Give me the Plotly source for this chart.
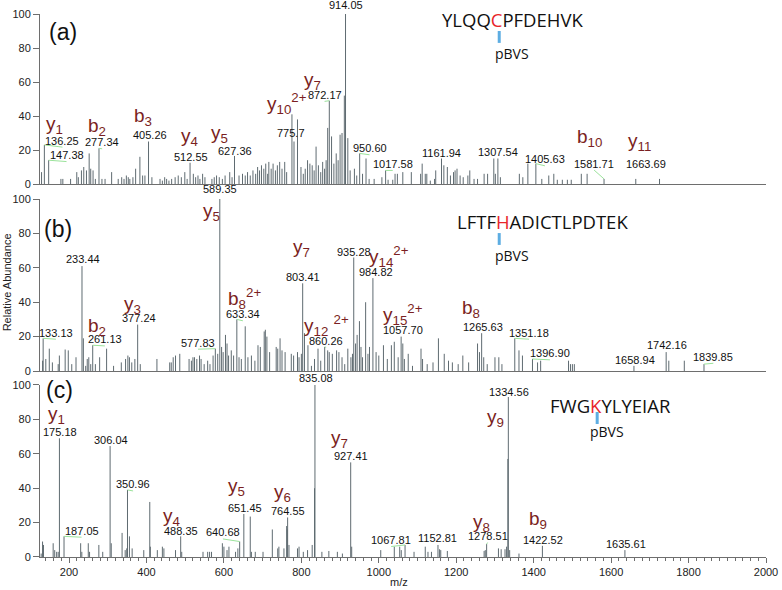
import plotly.graph_objects as go

# ---------------- data: panel (a) ----------------
A_MZ = [129, 136.25, 147.38, 179, 184, 204, 220, 224, 232, 238, 245, 252, 256, 262, 268, 277.34, 285, 293, 310, 327,
        336, 342, 348, 353, 357, 365, 372, 383, 390, 396, 405.26, 414, 435, 441, 447, 452, 458, 465, 474, 482,
        490, 499, 505, 512.55, 521, 527, 533, 538, 545, 551, 569, 575, 581, 588, 596, 603, 615, 621, 627.36, 639,
        648, 655, 661, 668, 675, 682, 687, 692, 697, 703, 708, 713, 716, 722, 727, 733, 738, 744, 750, 757,
        762, 775.7, 781, 790, 799, 805, 810, 816, 822, 828, 833, 838, 844, 850, 855, 860, 864, 868, 872.17, 878,
        884, 890, 895, 900, 905, 911, 914.05, 920, 926, 937, 943, 950.60, 958, 967, 975, 988, 1008, 1017.58, 1024, 1036,
        1042, 1048, 1062, 1084, 1108, 1112, 1120, 1124, 1133, 1144, 1147, 1161.94, 1168, 1177, 1185, 1193, 1197, 1202, 1210, 1218,
        1230, 1235, 1246, 1255, 1272, 1281, 1297, 1301, 1307.54, 1314, 1363, 1372, 1385, 1405.63, 1421, 1439, 1452, 1461, 1474, 1487,
        1497, 1523, 1538, 1581.71, 1663.69, 1725]
A_INT = [7, 23, 14, 3, 3, 3, 7, 4, 8, 10, 8, 18, 9, 8, 3, 21, 3, 3, 7, 3,
         4, 3, 5, 4, 3, 4, 9, 16, 5, 5, 25, 4, 3, 2, 4, 3, 2, 3, 4, 5,
         4, 7, 3, 12.5, 6, 4, 5, 3, 6, 4, 3, 4, 5, 4, 3, 5, 7, 4, 16.5, 5,
         6, 5, 7, 5, 8, 6, 10, 8, 11, 9, 12, 6, 13, 9, 12, 8, 11, 13, 9, 13,
         7, 41, 25, 38, 10, 6, 9, 14, 12, 11, 8, 22, 11, 7, 13, 9, 14, 33, 49, 28,
         12, 18, 14, 29, 30, 52, 100, 27, 8, 9, 5, 18, 6, 15, 3, 3, 4, 8, 2.5, 2.5,
         6, 6, 7, 7, 6, 12, 6, 6, 2, 3, 8, 15, 11, 10, 5, 7, 8, 9, 5, 4,
         5, 8, 3, 3, 6, 6, 15, 6, 15, 4, 6, 4, 12, 12, 3, 5, 6, 2.5, 2.5, 2.5,
         2.5, 6, 6, 3, 3, 3]

# ---------------- data: panel (b) ----------------
B_MZ = [131.7, 133.13, 140, 149, 157, 172, 175, 190, 198, 207, 218, 233.44, 237, 243, 247, 251, 256, 261.13, 268, 279,
        297, 315, 335, 346, 352, 356, 362, 370, 377.24, 384, 427, 460, 464, 469, 475, 486, 510, 516, 520, 524,
        530, 537, 541, 549, 558, 564, 572, 577.83, 584, 589.35, 594, 598, 604, 608, 612, 619, 625, 633.34, 639, 645,
        655, 662, 671, 680, 688, 694, 704, 707, 711, 718, 735, 739, 745, 750, 758, 774, 780, 790, 794, 800,
        803.41, 808, 817, 826, 834, 843, 850, 860.26, 868, 872, 880, 891, 897, 905, 912, 920, 928, 932, 935.28, 940,
        944, 950, 954, 958, 966, 972, 976, 984.82, 993, 1000, 1012, 1022, 1032.5, 1040, 1050, 1057.70, 1062, 1066, 1076, 1087,
        1109, 1113, 1125, 1140, 1154, 1169, 1180, 1190, 1205, 1217, 1232, 1255, 1260, 1265.63, 1271, 1280, 1300, 1310, 1318, 1351.18,
        1362, 1371, 1396.90, 1410, 1418, 1490, 1495, 1500, 1505, 1658.94, 1742.16, 1749, 1789, 1839.85]
B_INT = [6, 19, 7, 13, 5, 4, 9, 12.5, 12, 4, 8, 61, 19, 3, 7, 8, 4, 15, 4, 8,
         13, 3, 5, 7, 9, 8, 5, 7, 27, 4, 7, 5, 5, 8, 9, 10, 7, 6, 8, 8,
         7, 9, 7, 4, 6, 4, 9, 13, 10, 100, 14, 11, 21, 16, 9, 12, 9, 30, 8, 7,
         26, 8, 9, 6, 15, 14, 23, 24, 20, 11, 14, 13, 19, 12, 11, 10, 9, 11, 8, 10,
         51, 22, 15, 3, 7, 13, 6, 14, 12, 11, 10, 12, 11, 8, 4, 13, 8, 10, 66, 16,
         21, 29, 14, 8, 40, 10, 14, 54, 11, 9, 15, 7, 15, 17, 8, 20, 16, 7, 10, 3,
         13, 7, 4, 5, 19, 10, 6, 5, 4, 9, 5, 16, 11, 22, 8, 4, 8, 8, 4, 19,
         12, 9, 7, 5, 6, 6, 4, 4, 4, 3, 11, 6, 6, 4]

# ---------------- data: panel (c) ----------------
C_MZ = [128, 131.6, 134, 159, 163, 168, 172, 175.18, 187.05, 230, 233, 249.7, 253, 277, 287, 306.04, 309, 337, 345, 349,
        350.96, 356, 363, 393, 408.5, 410, 428, 441, 445, 475, 488.35, 491, 546, 558, 563, 568, 596, 600, 608, 613,
        630, 636, 640.68, 651.45, 668, 671, 681, 701, 725, 739, 742, 755, 762, 763.5, 764.55, 768, 790, 794, 805, 816,
        828, 834, 835.08, 853, 871, 893, 906, 927.41, 930, 1005, 1040, 1054, 1058, 1067.81, 1091, 1120, 1127, 1136, 1152.81, 1157,
        1160, 1177, 1272, 1275, 1278.51, 1309, 1316, 1326, 1330, 1333.3, 1334.56, 1338, 1362, 1422.52, 1635.61]
C_INT = [2, 9, 7, 8, 4, 3, 3, 69, 12, 8, 3, 8, 3, 7, 3, 64.5, 8, 14, 4, 5,
         39, 12, 5, 4, 32, 6, 4, 6, 5, 4, 12, 3, 3, 3, 3, 3, 8, 6, 4, 6,
         3, 5, 9, 25, 23.5, 3, 3, 3, 16, 5, 6, 5, 18, 16, 23, 7, 5, 6, 3, 4,
         7, 40, 100, 3, 3.5, 3, 2, 55, 6, 4, 6, 6, 4, 7, 3, 6, 3, 3, 7, 4.5,
         4, 3.5, 3.5, 4, 7.5, 5, 4.5, 4.5, 6, 57, 93, 4, 2, 6.5, 4]

# ---------------- labels ----------------
A_NUM = ["914.05", "872.17", "775.7", "136.25", "147.38", "277.34", "405.26", "512.55", "627.36", "950.60",
         "1017.58", "1161.94", "1307.54", "1405.63", "1581.71", "1663.69"]
B_NUM = ["589.35", "233.44", "133.13", "261.13", "377.24", "577.83", "633.34", "803.41", "860.26", "935.28",
         "984.82", "1057.70", "1265.63", "1351.18", "1396.90", "1658.94", "1742.16", "1839.85"]
C_NUM = ["835.08", "175.18", "306.04", "350.96", "187.05", "488.35", "640.68", "651.45", "764.55", "927.41",
         "1334.56", "1067.81", "1152.81", "1278.51", "1422.52", "1635.61"]

A_ION = ["y<sub>1</sub>", "b<sub>2</sub>", "b<sub>3</sub>", "y<sub>4</sub>", "y<sub>5</sub>",
         "y<sub>10</sub><sup>2+</sup>", "y<sub>7</sub>", "b<sub>10</sub>", "y<sub>11</sub>"]
B_ION = ["b<sub>2</sub>", "y<sub>3</sub>", "y<sub>5</sub>", "b<sub>8</sub><sup>2+</sup>", "y<sub>7</sub>",
         "y<sub>12</sub> <sup>2+</sup>", "y<sub>14</sub><sup>2+</sup>", "y<sub>15</sub><sup>2+</sup>", "b<sub>8</sub>"]
C_ION = ["y<sub>1</sub>", "y<sub>4</sub>", "y<sub>5</sub>", "y<sub>6</sub>", "y<sub>7</sub>",
         "y<sub>8</sub>", "y<sub>9</sub>", "b<sub>9</sub>"]

A_SEQ = ("YLQQ", "C", "PFDEHVK")
B_SEQ = ("LFTF", "H", "ADICTLPDTEK")
C_SEQ = ("FWG", "K", "YLYEIAR")
MOD_LABEL = "pBVS"
PANEL_TAGS = ["(a)", "(b)", "(c)"]
X_TICKS = [200, 400, 600, 800, 1000, 1200, 1400, 1600, 1800, 2000]
Y_TICKS = [0, 20, 40, 60, 80, 100]
Y_MAX = 100

# ---------------- layout placement (data units of each panel) ----------------
A_NUM_POS = [(916, 105.3), (860, 52.4), (774, 30), (183, 25.5), (193.5, 17), (285.5, 24.5), (408.5, 28.8),
             (515, 16), (627.7, 19.6), (976, 21), (1036, 11.8), (1162, 18.4), (1309, 18.8), (1429, 14.5),
             (1556, 12), (1689, 12)]
B_NUM_POS = [(590.7, 106), (234.8, 65), (166, 22.3), (292.4, 18.4), (381, 30.6), (533, 16.5), (649, 33),
             (804, 54.8), (864, 17.6), (937, 69.4), (993, 57.7), (1062, 23.8), (1268, 25.4), (1388, 22.3),
             (1442, 10.3), (1661, 6.4), (1745, 15.1), (1864, 8.3)]
C_NUM_POS = [(836.6, 104), (176.3, 72.9), (307.9, 68), (365.4, 42.2), (232.3, 15.3), (488.4, 15.3),
             (597.5, 14.3), (653.5, 28.7), (765, 26.7), (928.6, 58.9), (1337, 96.1), (1032, 9.9),
             (1152, 11.2), (1281, 12.2), (1423, 9.9), (1638, 7.6)]
A_LEAD = ["872.17", "136.25", "147.38", "277.34", "950.60", "1017.58", "1405.63", "1581.71"]
B_LEAD = ["133.13", "261.13", "577.83", "633.34", "860.26", "1351.18", "1396.90", "1839.85"]
C_LEAD = ["187.05", "350.96", "640.68", "1067.81", "1278.51"]

A_ION_POS = [(163, 35), (272, 33.5), (390, 39.4), (512, 27.6), (589, 29.4), (763, 47.6), (829, 60.6),
             (1545, 27), (1672, 24.7)]
B_ION_POS = [(271, 25.8), (365, 38.4), (567.5, 92.6), (653.5, 42.3), (799.6, 71.3), (865, 26.7),
             (1027, 66.5), (1063, 32.6), (1238, 36)]
C_ION_POS = [(167.8, 82.6), (464.4, 23.4), (632, 40.9), (752, 37), (898.5, 68.4), (1264, 19.6),
             (1302.6, 80.6), (1410, 21.5)]

SEQ_POS = [(1344.6, 96.5), (1423, 87.2), (1599, 88)]        # sequence text centre
BAR_POS = [(1311, 83, 90), (1311, 73.3, 80.2), (1564, 77.3, 84.3)]  # blue bar x, y0, y1
MOD_POS = [(1344, 77), (1344, 67.4), (1590, 72.7)]
TAG_POS = [(184, 89.4), (172, 82.5), (176, 97)]

STICK_COLOR = "#5f6b71"
ION_COLOR = "#7b1f22"
LEAD_COLOR = "#9be39b"
FONT = "Arial, Liberation Sans"

fig = go.Figure()

panels = [
    (A_MZ, A_INT, A_NUM, A_NUM_POS, A_LEAD, A_ION, A_ION_POS),
    (B_MZ, B_INT, B_NUM, B_NUM_POS, B_LEAD, B_ION, B_ION_POS),
    (C_MZ, C_INT, C_NUM, C_NUM_POS, C_LEAD, C_ION, C_ION_POS),
]
seqs = [A_SEQ, B_SEQ, C_SEQ]

annotations = []
shapes = []


def note(xr, yr, x, y, text, size, color, family=FONT):
    # y given in intensity units; placed via the axis domain so labels above 100 stay visible
    annotations.append(dict(x=x, y=y / Y_MAX, xref=xr, yref=f"{yr} domain", text=text, showarrow=False,
                            font=dict(family=family, size=size, color=color),
                            xanchor="center", yanchor="middle"))


for i, (mz, inten, nums, npos, leads, ions, ipos) in enumerate(panels):
    xr = "x" if i == 0 else f"x{i+1}"
    yr = "y" if i == 0 else f"y{i+1}"
    xs, ys = [], []
    for m, v in zip(mz, inten):
        xs += [m, m, None]
        ys += [0, v, None]
    fig.add_trace(go.Scatter(x=xs, y=ys, mode="lines", xaxis=xr, yaxis=yr,
                             line=dict(color=STICK_COLOR, width=1), hoverinfo="skip",
                             showlegend=False))
    lookup = dict(zip(mz, inten))
    for t, (px, py) in zip(nums, npos):
        note(xr, yr, px, py, t, 11, "#111")
        if t in leads:
            pk = float(t)
            shapes.append(dict(type="line", xref=xr, yref=yr, x0=pk, y0=lookup[pk],
                               x1=px, y1=py - 3.8, line=dict(color=LEAD_COLOR, width=1)))
    for t, (px, py) in zip(ions, ipos):
        note(xr, yr, px, py, t, 19, ION_COLOR)
    pre, mod, post = seqs[i]
    sx, sy = SEQ_POS[i]
    note(xr, yr, sx, sy, f"{pre}<span style='color:#e8262a'>{mod}</span>{post}", 18.5, "#111", "Open Sans")
    bx, by0, by1 = BAR_POS[i]
    shapes.append(dict(type="line", xref=xr, yref=yr, x0=bx, x1=bx, y0=by0, y1=by1,
                       line=dict(color="#5dade2", width=3)))
    mx, my = MOD_POS[i]
    note(xr, yr, mx, my, MOD_LABEL, 14, "#111", "Open Sans")
    tx, ty = TAG_POS[i]
    note(xr, yr, tx, ty, PANEL_TAGS[i], 23, "#111")

annotations.append(dict(x=-0.0453, y=0.506, xref="paper", yref="paper", text="Relative Abundance",
                        textangle=-90, showarrow=False, xanchor="center", yanchor="middle",
                        font=dict(family=FONT, size=11, color="#222")))
annotations.append(dict(x=0.4945, y=-0.046, xref="paper", yref="paper", text="m/z", showarrow=False,
                        xanchor="center", yanchor="middle",
                        font=dict(family=FONT, size=11, color="#222")))

AX_COLOR = "#6e6e6e"
xbase = dict(range=[125, 2000], showgrid=False, zeroline=False, showline=True, linecolor=AX_COLOR,
             linewidth=1, domain=[0, 1], automargin=False)
ybase = dict(range=[0, Y_MAX], showgrid=False, zeroline=False, showline=True, linecolor=AX_COLOR,
             linewidth=1, tickvals=Y_TICKS, ticks="outside", ticklen=6, tickcolor=AX_COLOR,
             automargin=False,
             tickfont=dict(family=FONT, size=11, color="#222"))

fig.update_layout(
    width=782, height=590,
    margin=dict(l=40, r=16, t=14, b=33, autoexpand=False),
    paper_bgcolor="white", plot_bgcolor="white",
    xaxis=dict(xbase, anchor="y", showticklabels=False, ticks=""),
    xaxis2=dict(xbase, anchor="y2", showticklabels=False, ticks=""),
    xaxis3=dict(xbase, anchor="y3", tickvals=X_TICKS, ticks="outside", ticklen=5, tickcolor=AX_COLOR,
                minor=dict(ticks="outside", dtick=20, tick0=0, ticklen=3, tickcolor=AX_COLOR),
                tickfont=dict(family=FONT, size=11, color="#222")),
    yaxis=dict(ybase, anchor="x", domain=[0.6869, 1.0]),
    yaxis2=dict(ybase, anchor="x2", domain=[0.3425, 0.6593]),
    yaxis3=dict(ybase, anchor="x3", domain=[0.0, 0.3168]),
    annotations=annotations,
    shapes=shapes,
    showlegend=False,
)

# remove the browser's default page margin so the figure fills the window exactly
fig.write_html("out.html", config={"displayModeBar": False},
               post_script="document.body.style.margin='0px';")
